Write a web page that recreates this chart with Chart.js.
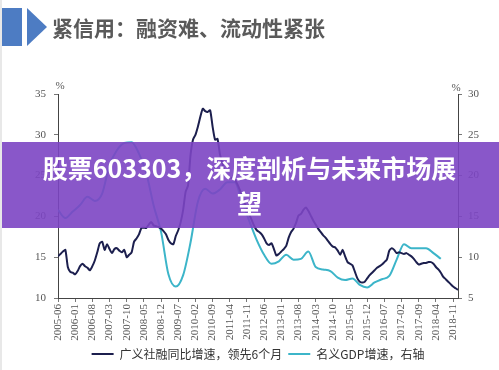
<!DOCTYPE html>
<html>
<head>
<meta charset="utf-8">
<script src="https://cdn.jsdelivr.net/npm/chart.js@4.4.1/dist/chart.umd.min.js"></script>
<style>
    html, body { margin: 0; padding: 0; background: #fff; }
    #page { position: relative; width: 499px; height: 370px; overflow: hidden; border-left: 2px solid #e8e8e8; box-sizing: border-box; }
    #chartBox { position: absolute; left: -2px; top: 0; width: 499px; height: 370px; }
    .blockRect { position: absolute; left: 0; top: 8px; width: 20px; height: 38px; background: #4d7cc3; }
    .blockArrow { position: absolute; left: 25px; top: 8px; width: 0; height: 0;
        border-top: 19px solid transparent; border-bottom: 19px solid transparent; border-left: 20px solid #4d7cc3; }
    .title { position: absolute; left: 50px; top: 10px; font-family: 'Noto Sans CJK SC'; font-weight: bold;
        font-size: 21px; line-height: 34px; color: #5a5a5a; white-space: nowrap; }
    .band { position: absolute; left: -2px; top: 142px; width: 499px; height: 86px; background: rgba(124, 69, 195, 0.9);
        color: #fff; font-family: 'Noto Sans CJK SC'; font-weight: bold; font-size: 25px; line-height: 35px;
        text-align: center; padding-top: 8px; box-sizing: border-box; }
</style>
</head>
<body>
<div id="page">
    <div id="chartBox"><canvas id="chart" width="499" height="370"></canvas></div>
    <div class="blockRect"></div>
    <div class="blockArrow"></div>
    <div class="title">紧信用：融资难、流动性紧张</div>
    <div class="band">股票603303，深度剖析与未来市场展<br>望</div>
</div>
<script>
// x axis labels, one every 7 months starting 2005-06
const tickLabels = ['2005-06', '2006-01', '2006-08', '2007-03', '2007-10', '2008-05', '2008-12', '2009-07',
    '2010-02', '2010-09', '2011-04', '2011-11', '2012-06', '2013-01', '2013-08', '2014-03', '2014-10',
    '2015-05', '2015-12', '2016-07', '2017-02', '2017-09', '2018-04', '2018-11'];

const seriesNames = ['广义社融同比增速，领先6个月', '名义GDP增速，右轴'];

// monthly, 2005-06 .. 2019-01 (left axis, %)
const socialFinancing = [
    15.1, 15.4, 15.7, 15.9, 13.8, 13.2, 13.1, 12.9, 13.3, 13.9, 14.2, 13.9,
    13.7, 13.4, 13.9, 14.6, 15.6, 16.7, 16.9, 15.9, 16.6, 16.0, 15.5, 16.0,
    16.1, 15.8, 15.6, 15.9, 15.0, 15.3, 15.6, 16.9, 17.3, 17.8, 18.6, 18.6,
    18.6, 19.0, 19.3, 18.9, 18.8, 18.7, 18.5, 18.2, 17.8, 17.1, 16.7, 16.6,
    17.6, 18.3, 19.3, 20.8, 23.0, 23.8, 27.5, 29.4, 30.0, 31.0, 32.2, 33.2,
    32.9, 32.8, 33.0, 31.0, 29.4, 29.5, 27.6, 26.5, 25.3, 24.9, 24.8, 24.7,
    24.5, 24.0, 23.3, 22.5, 21.7, 20.9, 20.2, 19.5, 18.8, 18.3, 18.1, 17.8,
    17.3, 16.7, 16.5, 16.7, 16.0, 15.2, 15.4, 15.7, 16.0, 16.4, 17.4, 18.1,
    18.5, 19.2, 20.1, 20.3, 20.8, 21.1, 20.7, 20.1, 19.5, 19.0, 18.5, 18.1,
    17.7, 17.4, 17.0, 16.6, 16.3, 16.2, 15.8, 15.3, 15.9, 15.1, 14.4, 14.2,
    14.0, 13.2, 12.4, 12.0, 11.9, 12.0, 12.4, 12.8, 13.1, 13.4, 13.7, 13.9,
    14.1, 14.4, 14.7, 15.8, 16.1, 15.9, 15.5, 15.6, 15.5, 15.4, 15.5, 15.3,
    15.1, 14.8, 14.4, 14.1, 14.2, 14.3, 14.3, 14.4, 14.4, 14.2, 13.8, 13.5,
    13.1, 12.6, 12.3, 12.0, 11.7, 11.4, 11.2, 11.0
];

// quarterly, every 3 months from 2005-06 (right axis, %)
const nominalGdp = [
    15.8, 14.8, 15.6, 16.4, 17.4, 16.9, 17.8, 21.3, 23.1, 24.0, 24.1, 22.7,
    20.3, 16.3, 13.1, 7.9, 6.4, 7.8, 11.8, 16.8, 18.4, 17.8, 18.3, 19.2,
    19.2, 16.8, 14.4, 12.1, 10.3, 9.2, 9.5, 10.3, 9.7, 9.8, 10.7, 8.8,
    8.5, 8.3, 7.5, 7.2, 7.4, 6.6, 6.3, 6.9, 7.3, 7.7, 9.7, 11.6,
    11.1, 11.1, 11.1, 10.5, 9.8
];

const tickFont = { family: 'Liberation Serif', size: 11 };
const axisColor = '#444';

const percentPlugin = {
    id: 'percentLabels',
    afterDraw(chart) {
        const ctx = chart.ctx;
        ctx.save();
        ctx.font = '11px "Liberation Serif"';
        ctx.fillStyle = '#555';
        ctx.textAlign = 'center';
        ctx.fillText('%', chart.scales.y.right + 2, chart.chartArea.top - 8);
        ctx.fillText('%', chart.scales.y2.left - 2, chart.chartArea.top - 6);
        ctx.restore();
    }
};

new Chart(document.getElementById('chart'), {
    type: 'line',
    data: {
        datasets: [{
            label: seriesNames[0],
            data: socialFinancing.map((v, i) => ({ x: i, y: v })),
            borderColor: '#1c1f4e',
            backgroundColor: '#1c1f4e',
            borderWidth: 2,
            pointRadius: 0,
            tension: 0.2,
            yAxisID: 'y'
        }, {
            label: seriesNames[1],
            data: nominalGdp.map((v, i) => ({ x: i * 3, y: v })),
            borderColor: '#3cb5c9',
            backgroundColor: '#3cb5c9',
            borderWidth: 2,
            pointRadius: 0,
            cubicInterpolationMode: 'monotone',
            yAxisID: 'y2'
        }]
    },
    options: {
        responsive: false,
        animation: false,
        layout: { padding: { left: 17, right: 0, top: 94, bottom: 0 } },
        plugins: {
            tooltip: { enabled: false },
            legend: {
                position: 'bottom',
                labels: {
                    usePointStyle: true,
                    pointStyle: 'line',
                    pointStyleWidth: 22,
                    padding: 6,
                    color: '#333',
                    font: { family: 'Noto Sans CJK SC', size: 12 }
                }
            }
        },
        scales: {
            x: {
                type: 'linear',
                min: 0,
                max: 163,
                afterBuildTicks: s => { s.ticks = tickLabels.map((_, i) => ({ value: i * 7 })); },
                afterFit: s => { s.height = 44; },
                ticks: {
                    autoSkip: false,
                    minRotation: 90,
                    maxRotation: 90,
                    padding: 2,
                    color: '#555',
                    font: tickFont,
                    callback: v => tickLabels[v / 7]
                },
                grid: { drawOnChartArea: false, tickLength: 4, color: '#777' },
                border: { color: axisColor }
            },
            y: {
                position: 'left',
                min: 10,
                max: 35,
                afterFit: s => { s.width = 41; },
                ticks: { stepSize: 5, padding: 8, color: '#555', font: tickFont },
                grid: { drawOnChartArea: false, tickLength: 4, color: '#777' },
                border: { color: axisColor }
            },
            y2: {
                position: 'right',
                min: 5,
                max: 30,
                afterFit: s => { s.width = 41; },
                ticks: { stepSize: 5, padding: 6, color: '#555', font: tickFont },
                grid: { drawOnChartArea: false, tickLength: 4, color: '#777' },
                border: { color: axisColor }
            }
        }
    },
    plugins: [percentPlugin]
});
</script>
</body>
</html>
